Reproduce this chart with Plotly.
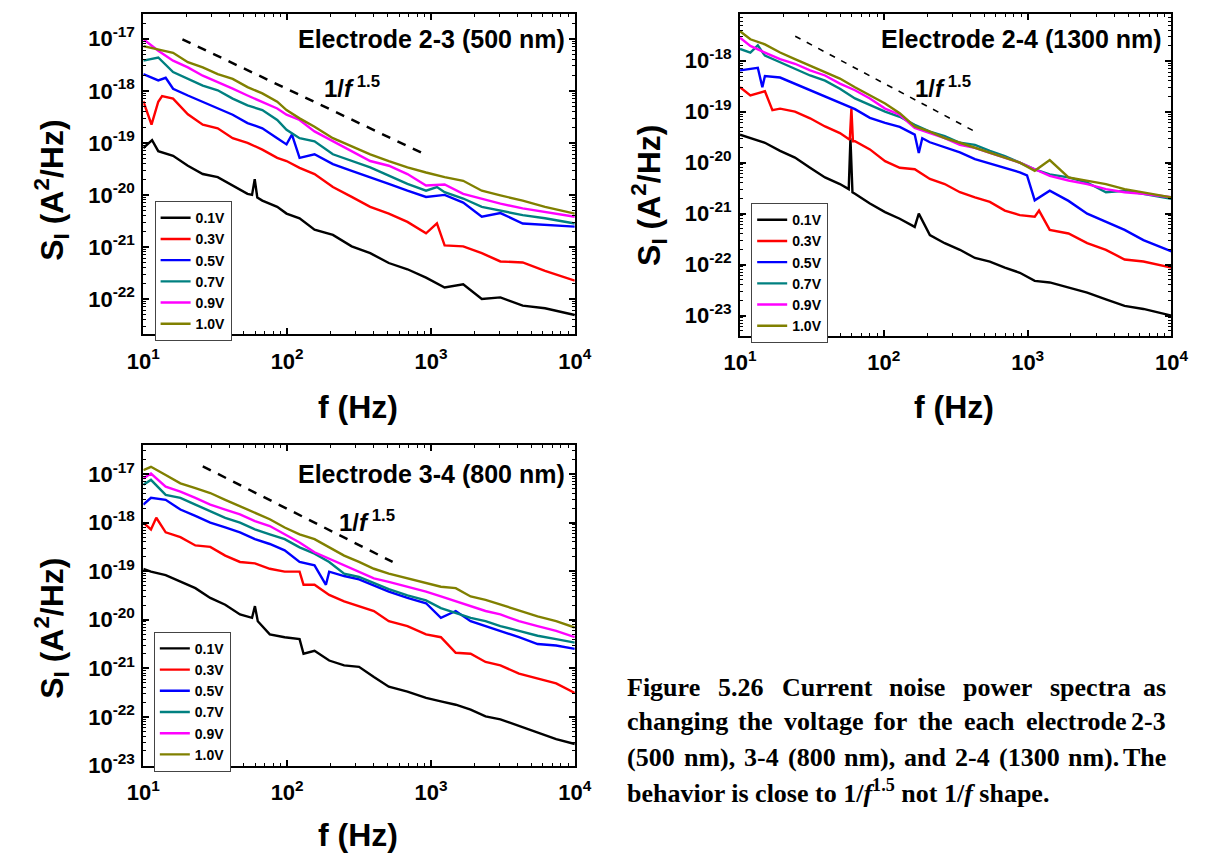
import plotly.graph_objects as go

PAGE_W, PAGE_H = 1205, 863
FONT = "Liberation Sans, Arial, sans-serif"
SERIF = "Liberation Serif, Times New Roman, serif"

VOLTAGES = ["0.1V", "0.3V", "0.5V", "0.7V", "0.9V", "1.0V"]
COLORS = ["#000000", "#ff0000", "#0000ff", "#008080", "#ff00ff", "#808000"]

# ---------------- Electrode 2-3 (500 nm) : log10(S_I) ----------------
F_23 = [10, 12.7, 16.1, 20.4, 25.9, 32.9, 41.8, 53, 67.2, 85.3, 99, 122, 155, 208, 281,
        378, 509, 686, 924, 1244, 1675, 2256, 3038, 4342, 6208, 10000]
S23_01 = [-19.10, -19.16, -19.25, -19.44, -19.60, -19.66, -19.82, -19.98, -20.11, -20.23, -20.36, -20.45, -20.67,
          -20.77, -20.99, -21.12, -21.31, -21.43, -21.59, -21.78, -21.72, -22.00, -21.97, -22.13, -22.18, -22.31]
S23_03 = [-18.20, -18.21, -18.15, -18.45, -18.65, -18.72, -18.91, -19.00, -19.13, -19.29, -19.35, -19.48, -19.60,
          -19.85, -20.04, -20.23, -20.36, -20.52, -20.74, -20.97, -20.99, -21.12, -21.28, -21.30, -21.46, -21.65]
S23_05 = [-17.68, -17.80, -17.96, -18.09, -18.21, -18.34, -18.46, -18.62, -18.72, -18.91, -19.03, -19.29, -19.22,
          -19.41, -19.54, -19.66, -19.79, -19.92, -20.04, -20.00, -20.15, -20.42, -20.35, -20.55, -20.58, -20.61]
S23_07 = [-17.42, -17.36, -17.64, -17.77, -17.90, -17.99, -18.15, -18.28, -18.37, -18.56, -18.75, -18.91, -18.97,
          -19.22, -19.35, -19.47, -19.63, -19.79, -19.92, -19.95, -20.07, -20.23, -20.30, -20.39, -20.45, -20.55]
S23_09 = [-17.01, -17.23, -17.42, -17.55, -17.71, -17.83, -17.96, -18.09, -18.21, -18.34, -18.46, -18.56, -18.78,
          -18.97, -19.16, -19.35, -19.44, -19.60, -19.82, -19.80, -19.98, -20.07, -20.17, -20.26, -20.33, -20.42]
S23_10 = [-17.14, -17.20, -17.27, -17.45, -17.55, -17.68, -17.77, -17.93, -18.05, -18.21, -18.37, -18.53, -18.69,
          -18.91, -19.06, -19.22, -19.35, -19.47, -19.57, -19.66, -19.73, -19.92, -20.01, -20.11, -20.23, -20.36]
X23_F = {"0.1V": [11.5, 57, 59.5, 62], "0.3V": [11.4, 13.5, 1100], "0.5V": [14.3, 108], "0.7V": [1100]}
X23_S = {"0.1V": [-18.95, -20.00, -19.70, -20.05], "0.3V": [-18.65, -18.10, -20.55],
         "0.5V": [-17.75, -18.84], "0.7V": [-19.85]}
GUIDE_F_23 = [18.7, 955]
GUIDE_S_23 = [-17.01, -19.25]

# ---------------- Electrode 2-4 (1300 nm) ----------------
F_24 = [10, 11.8, 14.9, 19, 24.1, 30.7, 39, 49.5, 63, 80, 102, 129, 164, 209, 265, 338, 430, 546, 694,
        882, 1120, 1424, 1923, 2594, 3500, 4720, 6380, 10000]
S24_01 = [-19.45, -19.52, -19.61, -19.77, -19.90, -20.10, -20.29, -20.42, -20.61, -20.80, -20.97, -21.10, -21.26, -21.42,
          -21.58, -21.71, -21.87, -21.94, -22.06, -22.16, -22.32, -22.35, -22.45, -22.55, -22.68, -22.81, -22.87, -23.00]
S24_03 = [-18.52, -18.68, -18.60, -18.94, -19.00, -19.13, -19.29, -19.42, -19.58, -19.74, -19.97, -20.10, -20.13, -20.32,
          -20.42, -20.58, -20.68, -20.77, -20.94, -21.03, -21.06, -21.32, -21.39, -21.58, -21.71, -21.90, -21.94, -22.06]
S24_05 = [-18.19, -18.16, -18.30, -18.33, -18.45, -18.58, -18.70, -18.82, -18.95, -19.12, -19.22, -19.30, -19.45, -19.60,
          -19.70, -19.80, -19.93, -20.02, -20.11, -20.19, -20.74, -20.55, -20.75, -21.00, -21.16, -21.32, -21.52, -21.74]
S24_07 = [-17.77, -17.84, -17.90, -18.03, -18.16, -18.29, -18.39, -18.55, -18.74, -18.87, -19.00, -19.10, -19.26, -19.39,
          -19.48, -19.61, -19.65, -19.77, -19.87, -20.00, -20.13, -20.23, -20.29, -20.39, -20.58, -20.55, -20.61, -20.71]
S24_09 = [-17.55, -17.71, -17.84, -17.97, -18.06, -18.19, -18.29, -18.45, -18.58, -18.74, -18.94, -19.06, -19.32, -19.42,
          -19.52, -19.65, -19.71, -19.81, -19.90, -20.00, -20.13, -20.26, -20.35, -20.42, -20.52, -20.58, -20.61, -20.68]
S24_10 = [-17.42, -17.58, -17.68, -17.84, -17.97, -18.10, -18.23, -18.35, -18.52, -18.68, -18.84, -19.03, -19.29, -19.39,
          -19.52, -19.61, -19.71, -19.81, -19.90, -20.00, -20.16, -19.95, -20.29, -20.35, -20.42, -20.52, -20.58, -20.68]
X24_F = {"0.1V": [57, 58.6, 60.5, 175], "0.3V": [16.8, 58, 59.5, 61, 1200],
         "0.5V": [13.3, 14.3, 175, 185, 990], "0.7V": [13.3]}
X24_S = {"0.1V": [-20.52, -19.52, -20.58, -21.00], "0.3V": [-18.97, -19.55, -18.94, -19.58, -20.94],
         "0.5V": [-18.14, -18.52, -19.81, -19.52, -20.25], "0.7V": [-17.70]}
GUIDE_F_24 = [24.2, 417]
GUIDE_S_24 = [-17.52, -19.37]

# ---------------- Electrode 3-4 (800 nm) ----------------
F_34 = [10, 11.3, 14.3, 18.1, 23, 29.2, 37.1, 47, 59.7, 75.7, 96.1, 122, 155, 196, 249, 316, 401, 509, 686,
        924, 1172, 1486, 1887, 2395, 3038, 4093, 5510, 7420, 10000]
S34_01 = [-18.95, -19.01, -19.08, -19.22, -19.35, -19.55, -19.69, -19.89, -19.72, -20.30, -20.36, -20.40, -20.64, -20.84, -20.94,
          -20.97, -21.18, -21.38, -21.48, -21.61, -21.68, -21.75, -21.85, -21.99, -22.05, -22.19, -22.32, -22.46, -22.56]
S34_03 = [-18.00, -18.14, -18.20, -18.30, -18.47, -18.50, -18.68, -18.81, -18.84, -18.95, -19.01, -19.01, -19.28, -19.49, -19.62,
          -19.72, -19.82, -20.03, -20.13, -20.30, -20.36, -20.68, -20.70, -20.87, -20.94, -21.11, -21.21, -21.31, -21.51]
S34_05 = [-17.63, -17.49, -17.53, -17.73, -17.86, -18.00, -18.10, -18.20, -18.34, -18.44, -18.57, -18.81, -18.88, -19.01, -19.10,
          -19.17, -19.30, -19.42, -19.55, -19.66, -19.96, -19.82, -20.03, -20.13, -20.23, -20.36, -20.50, -20.53, -20.60]
S34_07 = [-17.22, -17.12, -17.43, -17.49, -17.63, -17.76, -17.90, -18.00, -18.14, -18.24, -18.34, -18.51, -18.64, -18.81, -19.05,
          -19.12, -19.25, -19.37, -19.50, -19.60, -19.76, -19.86, -19.96, -20.03, -20.13, -20.23, -20.33, -20.40, -20.47]
S34_09 = [-17.09, -16.99, -17.26, -17.36, -17.49, -17.63, -17.73, -17.83, -17.97, -18.07, -18.24, -18.41, -18.61, -18.74, -18.88,
          -19.01, -19.15, -19.22, -19.32, -19.42, -19.52, -19.62, -19.72, -19.82, -19.89, -20.03, -20.13, -20.23, -20.36]
S34_10 = [-16.92, -16.85, -17.02, -17.19, -17.29, -17.39, -17.53, -17.66, -17.80, -17.93, -18.10, -18.24, -18.34, -18.51, -18.68,
          -18.81, -18.95, -19.05, -19.15, -19.25, -19.32, -19.35, -19.52, -19.59, -19.69, -19.82, -19.93, -20.03, -20.16]
X34_F = {"0.1V": [57, 62.5, 130], "0.3V": [12.3, 130], "0.5V": [186]}
X34_S = {"0.1V": [-19.96, -20.03, -20.70], "0.3V": [-17.90, -19.28], "0.5V": [-19.28]}
GUIDE_F_34 = [25.9, 541]
GUIDE_S_34 = [-16.84, -18.81]

PANELS = [
    dict(key="1", F=F_23, S=[S23_01, S23_03, S23_05, S23_07, S23_09, S23_10], XF=X23_F, XS=X23_S,
         GF=GUIDE_F_23, GS=GUIDE_S_23, yr=[-22.68, -16.52], yt=list(range(-22, -16)),
         title="Electrode 2-3 (500 nm)", dash="9px,8px", dw=2.5),
    dict(key="2", F=F_24, S=[S24_01, S24_03, S24_05, S24_07, S24_09, S24_10], XF=X24_F, XS=X24_S,
         GF=GUIDE_F_24, GS=GUIDE_S_24, yr=[-23.40, -17.08], yt=list(range(-23, -17)),
         title="Electrode 2-4 (1300 nm)", dash="6px,7px", dw=1.6),
    dict(key="3", F=F_34, S=[S34_01, S34_03, S34_05, S34_07, S34_09, S34_10], XF=X34_F, XS=X34_S,
         GF=GUIDE_F_34, GS=GUIDE_S_34, yr=[-23.01, -16.41], yt=list(range(-23, -16)),
         title="Electrode 3-4 (800 nm)", dash="9px,8px", dw=2.5),
]

# page-pixel boxes of the plot frames: (left, top, right, bottom)
BOX = {"1": (130, 14, 574, 339), "2": (744, 14, 1188, 340.7), "3": (130, 451.7, 574, 776.7)}
LEGEND_POS = {"1": (141.6, 204), "2": (755.5, 206), "3": (140.8, 640.7)}
TITLE_POS = {"1": (565.6, 39.3), "2": (1180.6, 40), "3": (565.6, 480.7)}
SLOPE_POS = {"1": (313.8, 88), "2": (922, 88.3), "3": (329, 528)}
YTITLE_POS = {"1": (36, 192.5), "2": (650, 198), "3": (36, 636.7)}
XTITLE_POS = {"1": (351, 413), "2": (964, 413), "3": (351, 846.7)}


def px(x):
    return x / PAGE_W


def py(y):
    return 1 - y / PAGE_H


def merge(f, s, ef, es):
    pts = sorted(zip(list(f) + list(ef), list(s) + list(es)))
    return [p[0] for p in pts], [10 ** p[1] for p in pts]


fig = go.Figure()
layout = dict(autosize=True, margin=dict(l=0, r=0, t=0, b=0, pad=0),
              paper_bgcolor="white", plot_bgcolor="white", showlegend=True)
annotations = []

for p in PANELS:
    k = p["key"]
    xa = "x" if k == "1" else "x" + k
    ya = "y" if k == "1" else "y" + k
    lg = "legend" if k == "1" else "legend" + k
    for name, color, svals in zip(VOLTAGES, COLORS, p["S"]):
        f, s = merge(p["F"], svals, p["XF"].get(name, []), p["XS"].get(name, []))
        fig.add_trace(go.Scatter(x=f, y=s, mode="lines", name=name, xaxis=xa, yaxis=ya, legend=lg,
                                 line=dict(color=color, width=2.4)))
    fig.add_trace(go.Scatter(x=p["GF"], y=[10 ** v for v in p["GS"]], mode="lines", xaxis=xa, yaxis=ya,
                             showlegend=False, line=dict(color="black", width=p["dw"], dash=p["dash"])))

    l, t, r, b = BOX[k]
    common = dict(type="log", showline=True, linewidth=2, linecolor="black", mirror="allticks",
                  ticks="inside", ticklen=6, tickwidth=1.5, tickcolor="black", showgrid=False,
                  zeroline=False, tickfont=dict(family=FONT, size=22, color="black", weight="bold"),
                  minor=dict(ticks="inside", ticklen=3, tickwidth=1, tickcolor="black", dtick="D1",
                             showgrid=False))
    layout["xaxis" if k == "1" else "xaxis" + k] = dict(
        common, domain=[px(l), px(r)], range=[1, 4], anchor=ya,
        tickvals=[10, 100, 1000, 10000],
        ticktext=["10<sup>%d</sup>" % e for e in range(1, 5)], ticklabelstandoff=6)
    layout["yaxis" if k == "1" else "yaxis" + k] = dict(
        common, domain=[py(b), py(t)], range=p["yr"], anchor=xa,
        tickvals=[10 ** e for e in p["yt"]],
        ticktext=["10<sup>%d</sup>" % e for e in p["yt"]], ticklabelstandoff=2)
    lx, ly = LEGEND_POS[k]
    layout[lg] = dict(x=px(lx), y=py(ly), xanchor="left", yanchor="top", bgcolor="white",
                      bordercolor="#444444", borderwidth=1,
                      font=dict(family=FONT, size=14, color="black", weight="bold"),
                      tracegroupgap=0, itemwidth=30)
    tx, ty = TITLE_POS[k]
    annotations.append(dict(text="<b>%s</b>" % p["title"], x=px(tx), y=py(ty), xref="paper", yref="paper",
                            xanchor="right", yanchor="middle", showarrow=False,
                            font=dict(family=FONT, size=25, color="black")))
    sx, sy = SLOPE_POS[k]
    annotations.append(dict(text="<b>1/<i>f</i><sup> 1.5</sup></b>", x=px(sx), y=py(sy), xref="paper",
                            yref="paper", xanchor="left", yanchor="middle", showarrow=False,
                            font=dict(family=FONT, size=24, color="black")))
    yx, yy = YTITLE_POS[k]
    annotations.append(dict(text="<b>S<sub>I</sub> (A<sup>2</sup>/Hz)</b>", x=px(yx), y=py(yy),
                            xref="paper", yref="paper", xanchor="center", yanchor="middle",
                            textangle=-90, showarrow=False, font=dict(family=FONT, size=32, color="black")))
    xx, xy = XTITLE_POS[k]
    annotations.append(dict(text="<b>f (Hz)</b>", x=px(xx), y=py(xy), xref="paper", yref="paper",
                            xanchor="center", yanchor="middle", showarrow=False,
                            font=dict(family=FONT, size=32, color="black")))

# ---------------- caption (justified by hand) ----------------
TB = {" ": 250, "(": 333, ")": 333, ",": 250, "-": 333, ".": 250, "/": 278,
      "F": 611, "C": 722, "T": 667,
      "a": 500, "b": 556, "c": 444, "d": 556, "e": 444, "f": 333, "g": 500, "h": 556, "i": 278,
      "l": 278, "m": 833, "n": 556, "o": 500, "p": 556, "r": 444, "s": 389, "t": 333, "u": 556,
      "v": 500, "w": 722}
CAP_SIZE = 26
CAP_LEFT, CAP_RIGHT = 626, 1184.5
CAP_LINES = ["Figure 5.26 Current noise power spectra as",
             "changing the voltage for the each electrode 2-3",
             "(500 nm), 3-4 (800 nm), and 2-4 (1300 nm). The"]
CAP_Y = [696.7, 731.7, 768, 803]


def tw(s):
    return sum(TB.get(c, 500) for c in s) * CAP_SIZE / 1000.0


for line, yline in zip(CAP_LINES, CAP_Y):
    words = line.split(" ")
    widths = [tw(w_) for w_ in words]
    gap = (CAP_RIGHT - CAP_LEFT - sum(widths)) / (len(words) - 1)
    xcur = CAP_LEFT
    for i, (w_, ww) in enumerate(zip(words, widths)):
        last = i == len(words) - 1
        annotations.append(dict(text="<b>%s</b>" % w_, x=px(CAP_RIGHT if last else xcur), y=py(yline),
                                xref="paper", yref="paper", xanchor="right" if last else "left",
                                yanchor="middle", showarrow=False,
                                font=dict(family=SERIF, size=CAP_SIZE, color="black")))
        xcur += ww + gap

annotations.append(dict(text="<b>behavior is close to 1/<i>f</i><sup>1.5</sup> not 1/<i>f</i> shape.</b>",
                        x=px(CAP_LEFT), y=py(CAP_Y[3]), xref="paper", yref="paper", xanchor="left",
                        yanchor="middle", showarrow=False,
                        font=dict(family=SERIF, size=CAP_SIZE, color="black")))

layout["annotations"] = annotations
fig.update_layout(**layout)

fig.write_html(
    "out.html",
    config={"displayModeBar": False, "responsive": True},
    default_width="100vw",
    default_height="100vh",
    post_script=("document.body.style.margin='0';"
                 "document.body.style.overflow='hidden';"
                 "document.documentElement.style.overflow='hidden';"
                 "Plotly.Plots.resize(document.getElementById('{plot_id}'));"),
)
